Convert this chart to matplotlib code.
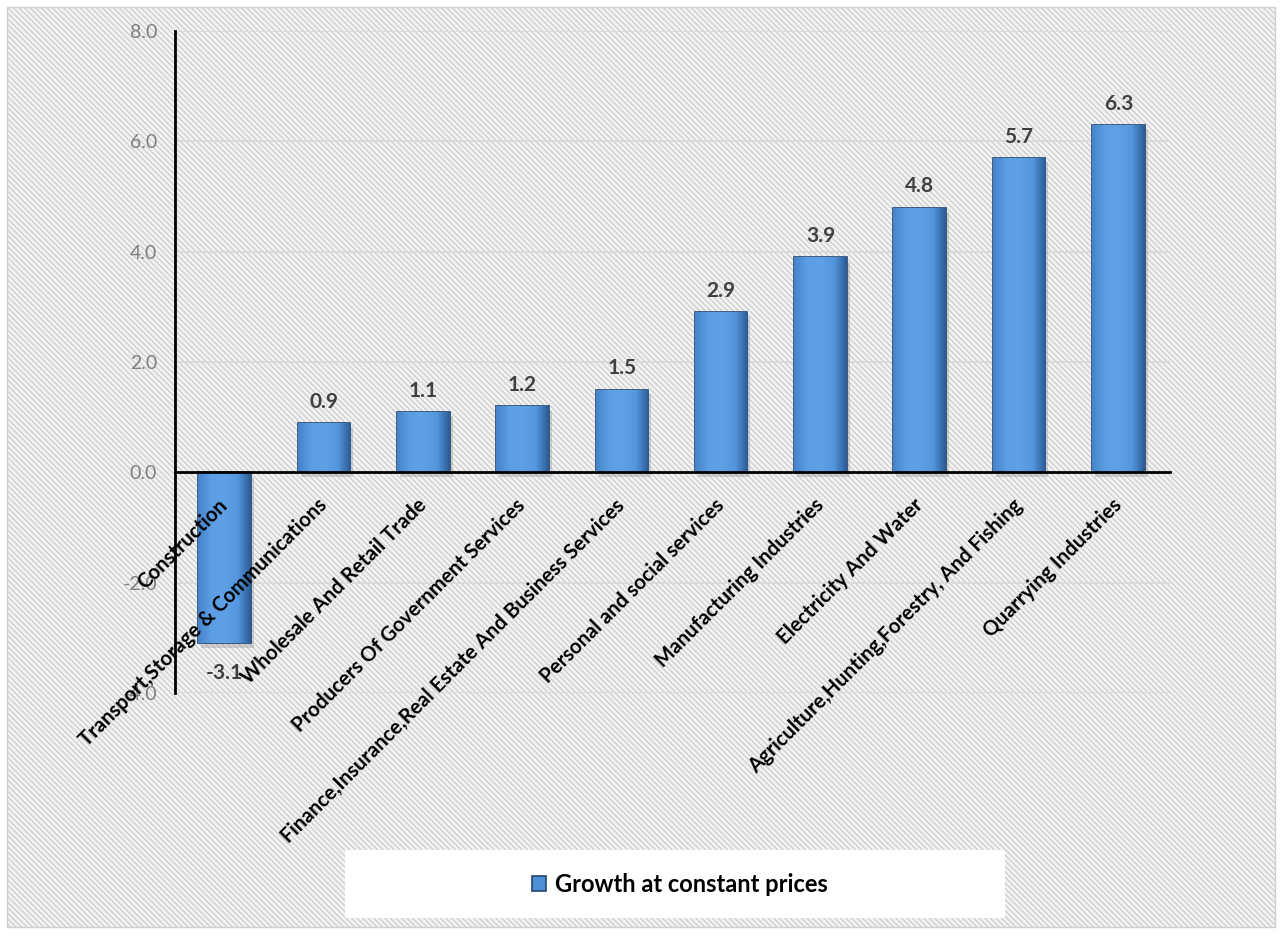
import matplotlib
matplotlib.use('Agg')
from matplotlib import pyplot as plt
from matplotlib.patches import Rectangle
from matplotlib import transforms
import numpy as np

sectors = ['Construction', 'Transport,Storage & Communications', 'Wholesale And Retail Trade',
           'Producers Of Government Services', 'Finance,Insurance,Real Estate And Business Services',
           'Personal and social services', 'Manufacturing Industries', 'Electricity And Water',
           'Agriculture,Hunting,Forestry, And Fishing', 'Quarrying Industries']
growth = [-3.1, 0.9, 1.1, 1.2, 1.5, 2.9, 3.9, 4.8, 5.7, 6.3]
yticks = [-4.0, -2.0, 0.0, 2.0, 4.0, 6.0, 8.0]
series_name = 'Growth at constant prices'

plt.rcParams['font.family'] = ['Lato', 'DejaVu Sans']
plt.rcParams['hatch.color'] = '#dcdcdc'
plt.rcParams['hatch.linewidth'] = 1.0

fig = plt.figure(figsize=(12.82, 9.34), dpi=100)
fig.patch.set_facecolor('white')

# hatched panel behind everything
panel = Rectangle((7 / 1282, 7 / 934), 1268 / 1282, 920 / 934, transform=fig.transFigure,
                  facecolor='#f3f3f3', edgecolor='#d0d0d0', hatch='\\\\\\\\\\\\', linewidth=1, zorder=-10)
fig.patches.append(panel)

# legend box
fig.patches.append(Rectangle((345 / 1282, 1 - 918 / 934), 660 / 1282, 68 / 934, transform=fig.transFigure,
                             facecolor='white', edgecolor='none', zorder=-5))

ax = fig.add_axes([175 / 1282, 1 - 693 / 934, 995 / 1282, (693 - 31) / 934])
ax.patch.set_alpha(0)

x = np.arange(len(sectors))
bars = ax.bar(x, growth, width=0.53, color='#4f8fd6', edgecolor='#21456e', linewidth=1.2,
              zorder=3, label=series_name)

# horizontal gradient inside each bar
cmap = matplotlib.colors.LinearSegmentedColormap.from_list(
    'bev', ['#4683cb', '#5c9de3', '#5fa0e6', '#5597de', '#2a5b94'])
grad = np.linspace(0, 1, 256).reshape(1, -1)
for b in bars:
    x0, w = b.get_x(), b.get_width()
    y0, h = b.get_y(), b.get_height()
    im = ax.imshow(grad, extent=[x0, x0 + w, y0, y0 + h], cmap=cmap, aspect='auto', zorder=3.5)
    im.set_clip_path(b)
    # shadow
    ax.add_patch(Rectangle((x0 + 0.03, y0 - 0.08 if h > 0 else y0 + h - 0.08), w, abs(h),
                           facecolor='#808080', alpha=0.3, edgecolor='none', zorder=2))

ax.set_xlim(-0.5, 9.52)
ax.set_ylim(-4, 8)
ax.set_yticks(yticks)
ax.set_yticklabels([f'{v:.1f}' for v in yticks], color='#7f7f7f', fontsize=14)
ax.yaxis.grid(True, color='#d9d9d9', linewidth=1.2, zorder=0)
ax.set_axisbelow(True)

for s in ['top', 'right']:
    ax.spines[s].set_visible(False)
ax.spines['left'].set_color('black')
ax.spines['left'].set_linewidth(2)
ax.spines['bottom'].set_position(('data', 0))
ax.spines['bottom'].set_linewidth(2)
ax.spines['bottom'].set_zorder(5)
ax.tick_params(axis='both', length=0)
ax.tick_params(axis='y', pad=13)
ax.set_xticks(x)
ax.set_xticklabels([])

# category labels drawn over the bars
offset = transforms.ScaledTranslation(0, -30 / 100, fig.dpi_scale_trans)
for xi, name in zip(x, sectors):
    ax.text(xi, 0, name, transform=ax.transData + offset, rotation=45, ha='right', va='center',
            rotation_mode='anchor', fontsize=14.7, fontweight='bold', color='black', zorder=6,
            clip_on=False)

for xi, v in zip(x, growth):
    ax.annotate(f'{v:.1f}', (xi, v), xytext=(0, 8 if v > 0 else -14), textcoords='offset points',
                ha='center', va='bottom' if v > 0 else 'top', fontsize=15, fontweight='bold',
                color='#404040', zorder=6)

fig.legend(handles=[bars], labels=[series_name], loc='center', bbox_to_anchor=(680 / 1282, 1 - 884 / 934),
           frameon=False, prop={'size': 17, 'weight': 'bold'}, handlelength=0.6, handleheight=0.6,
           handletextpad=0.4)

fig.savefig('out.png', dpi=100, facecolor=fig.get_facecolor())
